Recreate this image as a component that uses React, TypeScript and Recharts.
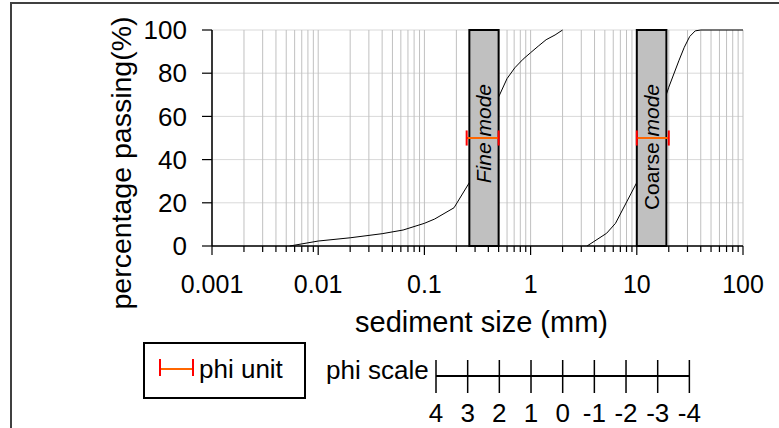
import {
  LineChart,
  Line,
  XAxis,
  YAxis,
  CartesianGrid,
  ReferenceArea,
  ReferenceLine,
  Legend,
} from 'recharts';

// cumulative curves (size in mm, % passing)
const FINE_SIZES = [0.0054, 0.01, 0.02, 0.04, 0.063, 0.1, 0.125, 0.19, 0.27, 0.5, 0.6, 0.71, 0.85, 1, 1.18, 1.4, 1.7, 2];
const FINE_PASSING = [0, 2.3, 3.8, 5.7, 7.4, 10.5, 12.5, 17.7, 30, 69, 77.5, 82.5, 86.5, 89.5, 92.5, 95.5, 97.7, 100];
const COARSE_SIZES = [3.4, 5.2, 6.3, 9.9, 20, 25, 28, 31.5, 35.5, 40, 100];
const COARSE_PASSING = [0, 5.9, 10.5, 29, 73.5, 86, 92, 97, 99.6, 100, 100];

const DECADES = [0.001, 0.01, 0.1, 1, 10, 100];
const MINOR_STEPS = [2, 3, 4, 5, 6, 7, 8, 9];
const Y_TICKS = [0, 20, 40, 60, 80, 100];

const FINE_BOX = [0.265, 0.5];
const COARSE_BOX = [10, 19];
const FINE_PHI_BAR = [0.25, 0.5];
const COARSE_PHI_BAR = [10, 20];
const PHI_BAR_LEVEL = 50;

const PHI_LABELS = ['4', '3', '2', '1', '0', '-1', '-2', '-3', '-4'];

const fineData = FINE_SIZES.map((size, i) => ({ size, passing: FINE_PASSING[i] }));
const coarseData = COARSE_SIZES.map((size, i) => ({ size, passing: COARSE_PASSING[i] }));

const X_TICKS = DECADES.flatMap((d, i) =>
  i < DECADES.length - 1 ? [d, ...MINOR_STEPS.map((m) => +(d * m).toPrecision(3))] : [d],
);

const FONT = '"Liberation Sans", Arial, sans-serif';
const CAP = 3.5; // half height of the phi bar caps, in % units

function SizeTick({ x, y, payload }: any) {
  const major = DECADES.includes(payload.value);
  return (
    <g>
      <line x1={x} y1={y} x2={x} y2={y + (major ? 9 : 6)} stroke="#000" strokeWidth={1.2} />
      {major && (
        <text x={x} y={y + 47} textAnchor="middle" fontSize={25} fontFamily={FONT} fill="#000">
          {payload.value}
        </text>
      )}
    </g>
  );
}

const xTitle = ({ viewBox }: any) => (
  <text
    x={viewBox.x + viewBox.width / 2 + 4}
    y={viewBox.y + 76}
    textAnchor="middle"
    dominantBaseline="central"
    fontSize={29}
    fontFamily={FONT}
    fill="#000"
  >
    sediment size (mm)
  </text>
);

const yTitle = ({ viewBox }: any) => {
  const cx = viewBox.x + 121;
  const cy = viewBox.y + viewBox.height / 2 + 25;
  return (
    <text
      x={cx}
      y={cy}
      transform={`rotate(-90 ${cx} ${cy})`}
      textAnchor="middle"
      dominantBaseline="central"
      fontSize={28.5}
      fontFamily={FONT}
      fill="#000"
    >
      percentage passing(%)
    </text>
  );
};

function modeLabel(first: string, second: string, firstItalic: boolean) {
  return ({ viewBox }: any) => {
    const cx = viewBox.x + viewBox.width / 2 - 1;
    const top = viewBox.y + 54;
    return (
      <text
        x={cx}
        y={top}
        transform={`rotate(-90 ${cx} ${top})`}
        textAnchor="end"
        dominantBaseline="central"
        fontSize={21}
        fontFamily={FONT}
        fill="#000"
      >
        <tspan fontStyle={firstItalic ? 'italic' : 'normal'}>{first} </tspan>
        <tspan fontStyle="italic">{second}</tspan>
      </text>
    );
  };
}

function phiBar(range: number[]) {
  return [
    <ReferenceLine
      key="bar"
      segment={[{ x: range[0], y: PHI_BAR_LEVEL }, { x: range[1], y: PHI_BAR_LEVEL }]}
      stroke="#ff6600"
      strokeWidth={2}
      zIndex={460}
    />,
    ...range.map((x) => (
      <ReferenceLine
        key={x}
        segment={[{ x, y: PHI_BAR_LEVEL - CAP }, { x, y: PHI_BAR_LEVEL + CAP }]}
        stroke="#ff0000"
        strokeWidth={2}
        zIndex={470}
      />
    )),
  ];
}

function PhiLegend() {
  const step = 31.67;
  const x0 = 436;
  return (
    <svg width={779} height={98} style={{ display: 'block' }} fontFamily={FONT}>
      <rect x={144} y={13} width={161} height={55} fill="#fff" stroke="#000" strokeWidth={2} />
      <line x1={160} y1={39} x2={193} y2={39} stroke="#ff6600" strokeWidth={2} />
      <line x1={160} y1={29} x2={160} y2={46} stroke="#ff0000" strokeWidth={2} />
      <line x1={193} y1={29} x2={193} y2={46} stroke="#ff0000" strokeWidth={2} />
      <text x={199} y={48} fontSize={26} fill="#000">
        phi unit
      </text>
      <text x={326} y={49} fontSize={26} fill="#000">
        phi scale
      </text>
      <line x1={x0} y1={46} x2={x0 + step * (PHI_LABELS.length - 1)} y2={46} stroke="#000" strokeWidth={2} />
      {PHI_LABELS.map((label, i) => (
        <g key={label}>
          <line x1={x0 + step * i} y1={30} x2={x0 + step * i} y2={63} stroke="#000" strokeWidth={1.5} />
          <text x={x0 + step * i} y={92} textAnchor="middle" fontSize={26} fill="#000">
            {label}
          </text>
        </g>
      ))}
    </svg>
  );
}

export default function App() {
  return (
    <div style={{ position: 'absolute', left: 0, top: 0, width: 779, height: 428, background: '#fff' }}>
      <div
        style={{
          position: 'absolute',
          left: 10,
          top: 2,
          right: 0,
          bottom: 0,
          borderTop: '2px solid #404040',
          borderLeft: '2px solid #404040',
        }}
      />
      <LineChart width={779} height={428} margin={{ top: 30, right: 36, bottom: 122, left: 0 }}>
        <CartesianGrid vertical={false} stroke="#d9d9d9" />
        <CartesianGrid horizontal={false} stroke="#c0c0c0" />
        <XAxis
          dataKey="size"
          type="number"
          scale="log"
          domain={[0.001, 100]}
          allowDataOverflow
          ticks={X_TICKS}
          interval={0}
          tick={<SizeTick />}
          tickLine={false}
          tickSize={0}
          tickMargin={0}
          height={60}
          axisLine={{ stroke: '#000', strokeWidth: 1.5 }}
          label={xTitle}
        />
        <YAxis
          type="number"
          domain={[0, 100]}
          ticks={Y_TICKS}
          width={212}
          tickSize={10}
          tickMargin={15}
          tickLine={{ stroke: '#000', strokeWidth: 1.2 }}
          axisLine={{ stroke: '#000', strokeWidth: 1.5 }}
          tick={{ fontSize: 26, fill: '#000', fontFamily: FONT }}
          label={yTitle}
        />
        <Line data={fineData} dataKey="passing" stroke="#000" strokeWidth={1} dot={false} isAnimationActive={false} />
        <Line data={coarseData} dataKey="passing" stroke="#000" strokeWidth={1} dot={false} isAnimationActive={false} />
        <ReferenceArea
          x1={FINE_BOX[0]}
          x2={FINE_BOX[1]}
          y1={0}
          y2={100}
          fill="#c0c0c0"
          fillOpacity={1}
          stroke="#000"
          strokeWidth={2}
          zIndex={450}
          label={modeLabel('Fine', 'mode', true)}
        />
        <ReferenceArea
          x1={COARSE_BOX[0]}
          x2={COARSE_BOX[1]}
          y1={0}
          y2={100}
          fill="#c0c0c0"
          fillOpacity={1}
          stroke="#000"
          strokeWidth={2}
          zIndex={450}
          label={modeLabel('Coarse', 'mode', false)}
        />
        {phiBar(FINE_PHI_BAR)}
        {phiBar(COARSE_PHI_BAR)}
        <Legend
          layout="horizontal"
          verticalAlign="middle"
          align="center"
          content={<PhiLegend />}
          wrapperStyle={{ left: 0, top: 330, width: 779, height: 98 }}
        />
      </LineChart>
    </div>
  );
}
